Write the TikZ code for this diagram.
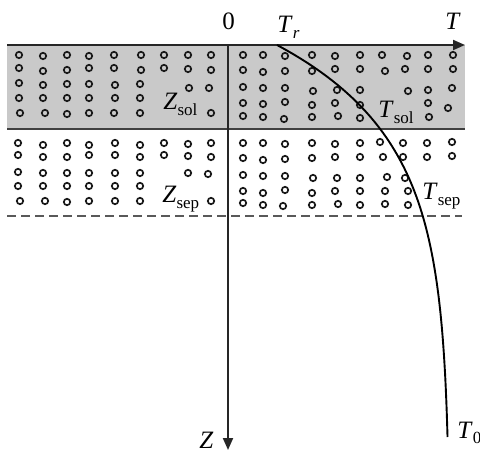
\documentclass[tikz,border=0pt]{standalone}
\usepackage{fontspec}
\setmainfont{Liberation Serif}
\usetikzlibrary{arrows.meta}
\newcommand{\lowtxt}[1]{\raisebox{-0.45ex}{\fontsize{8.5}{9}\selectfont #1}}
\tikzset{
  axis/.style={line width=1pt, black!85},
  axisarrow/.style={axis, -{Triangle[length=6pt,width=5pt]}},
  band/.style={fill=black!21},
  bandline/.style={line width=1.1pt, black!75},
  sepline/.style={line width=1.1pt, black!65, dash pattern=on 4.6pt off 2.4pt},
  ring/.style={line width=0.85pt, black!90},
  curve/.style={line width=0.95pt, black},
  lbl/.style={font=\fontsize{12.5}{14}\selectfont, anchor=base west, inner sep=0pt, text=black}
}
\begin{document}
\begin{tikzpicture}[x=0.5pt, y=-0.5pt]
\useasboundingbox (0,0) rectangle (480,453);
% gray band
\fill[band] (7,45) rectangle (465,129);
\draw[bandline] (7,129) -- (465,129);
% dashed separation line
\draw[sepline] (7,216) -- (462,216);
% rings
\foreach \p in {
 (19,55),(43,56),(67,55),(89,56),(114,55),(141,55),(164,55),(188,55),(211,55),
 (19,68),(43,71),(67,70),(89,68),(114,68),(141,70),(164,68),(188,69),(211,70),
 (19,83),(43,85),(67,84),(89,84),(115,85),(140,84),(189,88),(209,88),
 (19,98),(43,98),(67,98),(89,98),(115,98),(140,98),
 (20,113),(45,113),(67,114),(89,113),(114,113),(140,113),(211,113),
 (243,55),(263,55),(285,56),(312,55),(335,56),(360,55),(382,55),(407,56),(428,55),(453,55),
 (243,70),(263,72),(285,71),(312,71),(335,69),(360,69),(385,71),(405,69),(428,69),(453,69),
 (243,87),(263,88),(285,88),(313,91),(337,90),(360,90),(408,91),(428,90),(452,88),
 (243,103),(263,104),(285,102),(312,105),(335,103),(360,105),(428,103),(448,108),
 (243,116),(263,117),(284,119),(312,117),(338,116),(360,118),(429,117),
 (18,143),(43,145),(67,143),(89,145),(115,143),(140,145),(164,143),(188,144),(211,143),
 (18,155),(43,157),(67,157),(89,155),(115,155),(140,157),(164,155),(188,156),(211,157),
 (18,172),(43,173),(67,173),(89,173),(115,173),(140,173),(188,173),(208,174),
 (18,186),(43,186),(67,186),(89,186),(115,186),(140,186),
 (20,201),(45,201),(67,202),(89,201),(115,201),(140,201),(211,201),
 (243,143),(263,143),(285,144),(312,143),(335,144),(360,143),(380,142),(403,143),(427,143),(452,142),
 (243,158),(263,160),(285,159),(312,158),(335,157),(360,157),(383,157),(403,157),(427,157),(452,156),
 (243,175),(263,176),(285,176),(313,178),(337,178),(360,178),(387,177),(405,178),
 (243,191),(263,193),(285,190),(312,193),(335,191),(360,191),(385,191),(408,191),
 (243,203),(263,205),(283,206),(312,205),(338,204),(360,205),(385,204),(408,205)}
 \draw[ring] \p circle (3.2);
% axes
\coordinate (hstart) at (7,45);
\coordinate (hend) at (465,45);
\coordinate (origin) at (228,45);
\coordinate (vend) at (228,450);
\draw[axisarrow] (hstart) -- (hend);
\draw[axisarrow] (origin) -- (vend);
% temperature curve
\draw[curve] plot[domain=45:437, samples=90] ({450-173*exp(-0.0108*(\x-45))}, \x);
% labels
\node[lbl] (zero) at (222,30) {0};
\node[lbl] (tr) at (277,33) {\textit{T}\lowtxt{\textit{r}}};
\node[lbl] (tax) at (445,30) {\textit{T}};
\node[lbl] (zax) at (199,448) {\textit{Z}};
\node[lbl] (tzero) at (457,438) {\textit{T}\lowtxt{0}};
\node[lbl] (zsol) at (163,110) {\textit{Z}\lowtxt{sol}};
\node[lbl] (tsol) at (378,118) {\textit{T}\lowtxt{sol}};
\node[lbl] (zsep) at (162,203) {\textit{Z}\lowtxt{sep}};
\node[lbl] (tsep) at (422,200) {\textit{T}\lowtxt{sep}};
\end{tikzpicture}
\end{document}
